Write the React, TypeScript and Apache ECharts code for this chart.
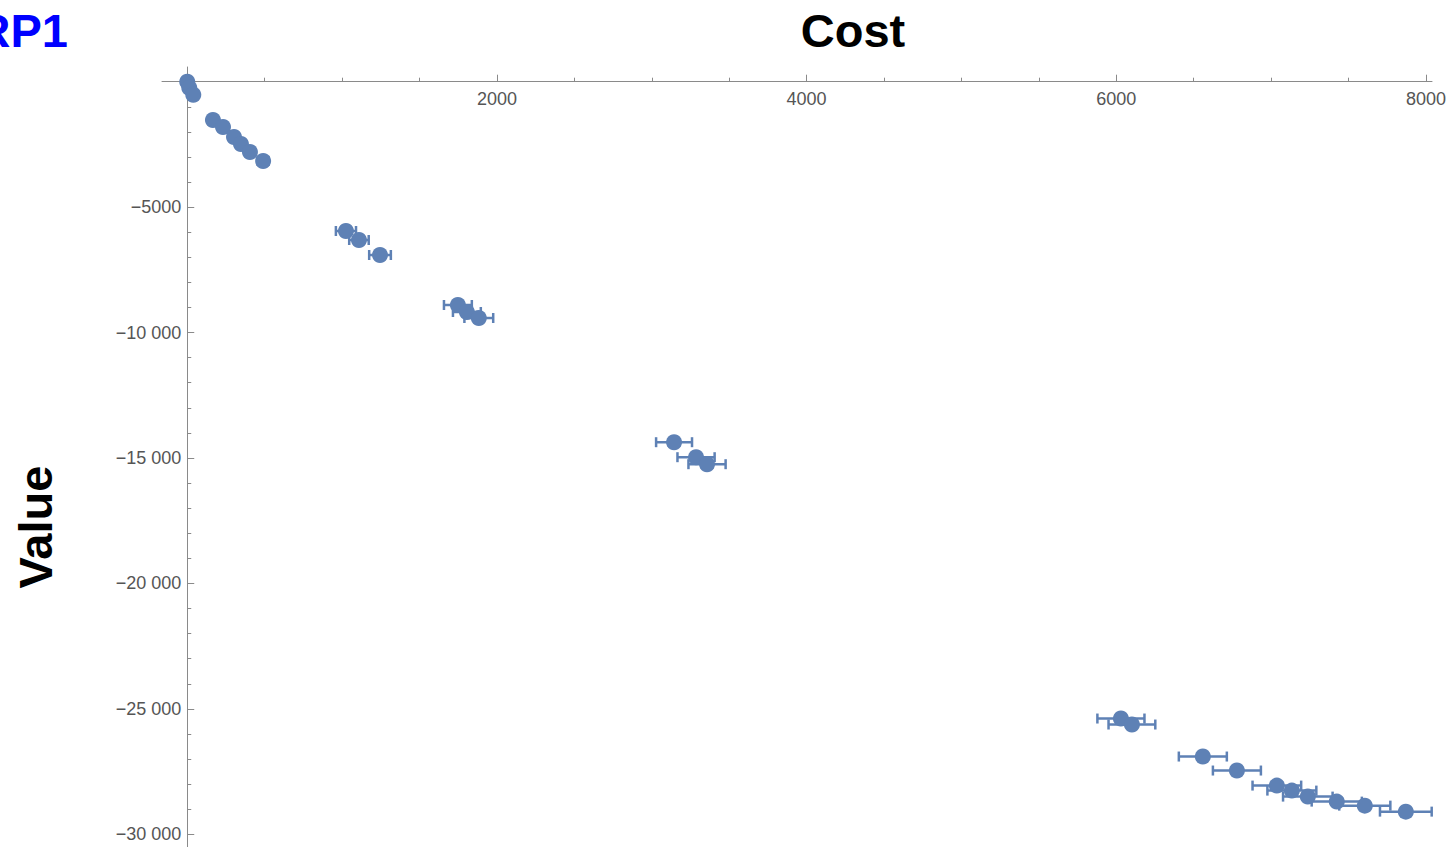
import React, { useEffect, useRef } from "react";
import * as echarts from "echarts";

// Data
const costs = [0, 13, 39, 166, 231, 302, 347, 405, 490, 1025, 1109, 1245, 1748, 1806, 1883, 3144, 3286, 3357, 6030, 6101, 6559, 6779, 7037, 7134, 7237, 7424, 7605, 7870];
const values = [0, -240, -520, -1527, -1806, -2204, -2483, -2802, -3161, -5952, -6311, -6909, -8901, -9180, -9420, -14370, -14968, -15247, -25385, -25624, -26900, -27458, -28058, -28258, -28497, -28697, -28857, -29096];
const costErrors = [3, 5, 8, 18, 22, 25, 28, 30, 35, 65, 63, 70, 90, 90, 93, 116, 120, 120, 152, 151, 155, 155, 157, 158, 160, 162, 165, 167];

const xMajorTicks = [2000, 4000, 6000, 8000];
const xMinorTicks = [500, 1000, 1500, 2500, 3000, 3500, 4500, 5000, 5500, 6500, 7000, 7500];
const yMajorTicks = [-30000, -25000, -20000, -15000, -10000, -5000];
const yMinorTicks = [-29000, -28000, -27000, -26000, -24000, -23000, -22000, -21000, -19000, -18000, -17000, -16000, -14000, -13000, -12000, -11000, -9000, -8000, -7000, -6000, -4000, -3000, -2000, -1000];

const xTitle = "Cost";
const yTitle = "Value";
const plotLabel = "RP1";

const pointColor = "#5E81B5";
const axisColor = "#8a8a8a";
const labelColor = "#555555";
const fontFamily = "'Liberation Sans', Arial, sans-serif";

function fmt(v: number): string {
  const s = Math.abs(v).toString();
  const body = s.length > 4 ? s.slice(0, -3) + " " + s.slice(-3) : s;
  return (v < 0 ? "\u2212" : "") + body;
}

export default function App() {
  const ref = useRef<HTMLDivElement>(null);
  useEffect(() => {
    if (!ref.current) return;
    const chart = echarts.init(ref.current, null, { renderer: "svg" });
    const W = 1450, H = 847;
    const gLeft = 162, gRight = 18, gTop = 67, gBottom = 0;
    const xMin = -163, xMax = 8039, yMin = -30506, yMax = 586;
    const gW = W - gLeft - gRight, gH = H - gTop - gBottom;
    // place the axes where the other axis' value is zero
    const xAxisOffset = -((yMax - 0) / (yMax - yMin)) * gH;
    const yAxisOffset = -((0 - xMin) / (xMax - xMin)) * gW;
    const commonX = { type: "value", min: xMin, max: xMax, position: "top", offset: xAxisOffset, splitLine: { show: false } };
    const commonY = { type: "value", min: yMin, max: yMax, position: "left", offset: yAxisOffset, splitLine: { show: false } };
    chart.setOption({
      animation: false,
      grid: { left: gLeft, right: gRight, top: gTop, bottom: gBottom, containLabel: false, outerBoundsMode: "none" },
      xAxis: [
        {
          ...commonX,
          axisLine: { show: true, onZero: false, lineStyle: { color: axisColor, width: 1 } },
          axisTick: { show: true, inside: false, length: 7, customValues: xMajorTicks, lineStyle: { color: axisColor } },
          axisLabel: { show: true, inside: true, customValues: xMajorTicks, margin: 8, color: labelColor, fontSize: 18, fontFamily, formatter: (v: number) => fmt(v) },
        },
        {
          ...commonX,
          axisLine: { show: false, onZero: false },
          axisTick: { show: true, inside: false, length: 4, customValues: xMinorTicks, lineStyle: { color: axisColor } },
          axisLabel: { show: false },
        },
      ],
      yAxis: [
        {
          ...commonY,
          axisLine: { show: true, onZero: false, lineStyle: { color: axisColor, width: 1 } },
          axisTick: { show: true, inside: true, length: 7, customValues: yMajorTicks, lineStyle: { color: axisColor } },
          axisLabel: { show: true, inside: false, customValues: yMajorTicks, margin: 6, color: labelColor, fontSize: 18, fontFamily, formatter: (v: number) => fmt(v) },
        },
        {
          ...commonY,
          axisLine: { show: false, onZero: false },
          axisTick: { show: true, inside: true, length: 4, customValues: yMinorTicks, lineStyle: { color: axisColor } },
          axisLabel: { show: false },
        },
      ],
      graphic: [
        { type: "text", x: 853, y: 30, style: { text: xTitle, fill: "#000", font: `bold 47px ${fontFamily}`, textAlign: "center", textVerticalAlign: "middle" } },
        { type: "text", x: 35, y: 527, rotation: Math.PI / 2, style: { text: yTitle, fill: "#000", font: `bold 47px ${fontFamily}`, textAlign: "center", textVerticalAlign: "middle" } },
        { type: "text", x: 68, y: 30, style: { text: plotLabel, fill: "#0000FF", font: `bold 47px ${fontFamily}`, textAlign: "right", textVerticalAlign: "middle" } },
      ],
      series: [
        {
          type: "custom",
          xAxisIndex: 0,
          yAxisIndex: 0,
          z: 2,
          encode: { x: 0, y: 1 },
          data: costs.map((c, i) => [c, values[i], costErrors[i]]),
          renderItem: (params: any, api: any) => {
            const x = api.value(0), y = api.value(1), e = api.value(2);
            const l = api.coord([x - e, y]);
            const r = api.coord([x + e, y]);
            const cap = 5;
            const st = { stroke: pointColor, lineWidth: 2.5 };
            return {
              type: "group",
              children: [
                { type: "line", shape: { x1: l[0], y1: l[1], x2: r[0], y2: r[1] }, style: st },
                { type: "line", shape: { x1: l[0], y1: l[1] - cap, x2: l[0], y2: l[1] + cap }, style: st },
                { type: "line", shape: { x1: r[0], y1: r[1] - cap, x2: r[0], y2: r[1] + cap }, style: st },
              ],
            };
          },
        },
        {
          type: "scatter",
          xAxisIndex: 0,
          yAxisIndex: 0,
          z: 3,
          symbol: "circle",
          symbolSize: 16,
          itemStyle: { color: pointColor, opacity: 1 },
          data: costs.map((c, i) => [c, values[i]]),
        },
      ],
    });
    return () => chart.dispose();
  }, []);
  return (
    <div style={{ position: "absolute", left: 0, top: 0, width: 1450, height: 847, overflow: "hidden", background: "#fff" }}>
      <div ref={ref} style={{ width: 1450, height: 847 }} />
    </div>
  );
}
